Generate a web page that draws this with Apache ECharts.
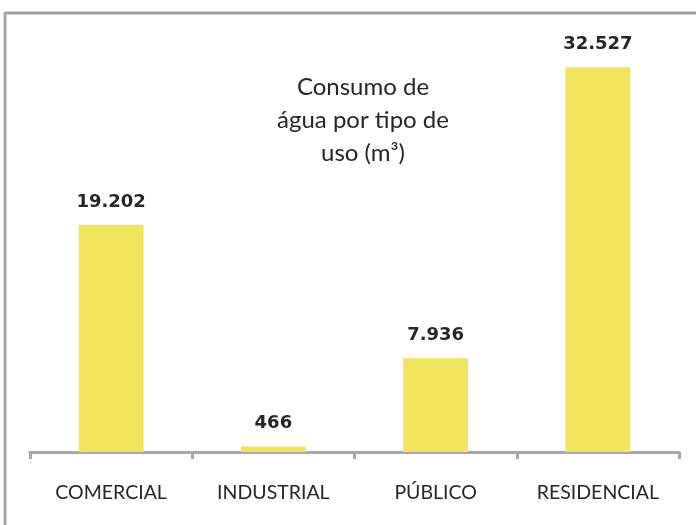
<!DOCTYPE html>
<html>
<head>
<meta charset="utf-8">
<script src="https://cdn.jsdelivr.net/npm/echarts@6/dist/echarts.min.js"></script>
<style>
  html, body { margin: 0; padding: 0; background: #fff; }
  #chart { width: 696px; height: 525px; }
</style>
</head>
<body>
<div id="chart"></div>
<script>
// dados
var categorias = ['COMERCIAL', 'INDUSTRIAL', 'PÚBLICO', 'RESIDENCIAL'];
var consumo = [19202, 466, 7936, 32527];

function fmt(v) {
    return String(v).replace(/\B(?=(\d{3})+(?!\d))/g, '.');
}

var myChart = echarts.init(document.getElementById('chart'));
myChart.setOption({
    backgroundColor: '#fff',
    animation: false,
    title: {
        text: 'Consumo de\nágua por tipo de\nuso (m³)',
        left: 358,
        top: 66,
        textAlign: 'center',
        textStyle: {
            fontFamily: 'Lato',
            fontWeight: 'normal',
            fontSize: 24,
            lineHeight: 33,
            color: '#262626'
        }
    },
    grid: {
        left: 30,
        right: 17,
        top: 38,
        bottom: 73
    },
    xAxis: {
        type: 'category',
        data: categorias,
        axisLine: { lineStyle: { color: '#a6a6a6', width: 3 } },
        axisTick: { show: true, interval: 0, length: 7, lineStyle: { color: '#a6a6a6', width: 3 } },
        axisLabel: {
            interval: 0,
            hideOverlap: false,
            margin: 31,
            fontFamily: 'Lato',
            fontSize: 19.5,
            color: '#262626'
        }
    },
    yAxis: {
        type: 'value',
        min: 0,
        max: 35000,
        show: false
    },
    series: [{
        type: 'bar',
        data: consumo,
        barWidth: '40%',
        itemStyle: { color: '#F1E45F' },
        label: {
            show: true,
            position: 'top',
            distance: 14,
            fontFamily: 'DejaVu Sans',
            fontWeight: 'bold',
            fontSize: 18,
            color: '#262626',
            formatter: function (p) { return fmt(p.value); }
        }
    }],
    graphic: [
        { type: 'line', shape: { x1: 5, y1: 13, x2: 696, y2: 13 }, style: { stroke: '#a0a0a0', lineWidth: 3 } },
        { type: 'line', shape: { x1: 5, y1: 12, x2: 5, y2: 525 }, style: { stroke: '#a8a8ac', lineWidth: 3 } }
    ]
});
</script>
</body>
</html>
